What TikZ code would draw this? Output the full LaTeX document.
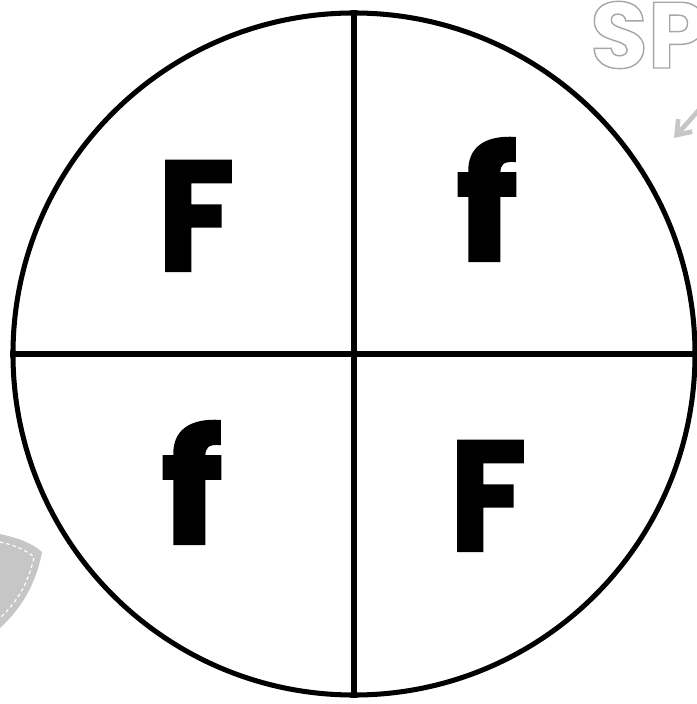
\documentclass[tikz,border=0pt]{standalone}
\usepackage{fontspec}
\setmainfont{Poppins}
\newfontfamily\letterfont{Poppins}[BoldFeatures={FakeBold=1.5}]
\usetikzlibrary{arrows.meta}
\newcommand\hollowtext[1]{\special{pdf:literal direct 1 Tr 1.2 w}#1\special{pdf:literal direct 0 Tr}}
\begin{document}
\begin{tikzpicture}[x=0.03cm,y=-0.03cm,
  letter/.style={anchor=base, inner sep=0pt, font=\fontsize{134}{134}\letterfont\bfseries},
  quarterline/.style={line width=4.3pt}]
\useasboundingbox (0,0) rectangle (696,704);
\fill[gray!45] (0,534) .. controls (18,538) and (32,543) .. (42,552) .. controls (36,585) and (20,610) .. (0,628) -- cycle;
\draw[white, line width=1pt, dash pattern=on 3pt off 2.5pt] (0,542) .. controls (14,545) and (26,550) .. (34,557) .. controls (28,585) and (16,603) .. (0,618);
\node[anchor=base west, inner sep=0pt, text=gray!70, font=\fontsize{80}{80}\selectfont\bfseries] (sp) at (590,68) {\hollowtext{SP}};
\coordinate (tail) at (706,102);
\coordinate (tip) at (674,138);
\draw[gray!45, line width=4pt, -{Straight Barb[length=11pt,width=16pt]}] (tail) -- (tip);
\node[draw, circle, line width=4.3pt, minimum size=20.46cm, inner sep=0pt] (disc) at (354,354) {};
\draw[quarterline] (disc.north) -- (disc.south);
\draw[quarterline] (disc.west) -- (disc.east);
\node[letter, xscale=0.9] (bigtl) at (196,271) {F};
\node[letter, xscale=1.1] (smalltr) at (487,261) {f};
\node[letter, xscale=1.1] (smallbl) at (192,544) {f};
\node[letter, xscale=0.9] (bigbr) at (488,551) {F};
\end{tikzpicture}
\end{document}
